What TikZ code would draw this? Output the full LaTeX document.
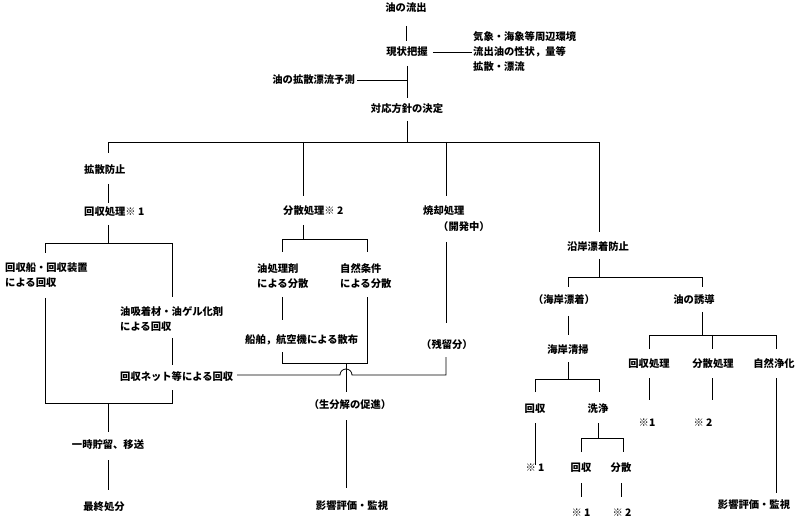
\documentclass[tikz,border=0pt]{standalone}
\usepackage{fontspec}
\newfontfamily\jp{Noto Sans CJK JP}
\begin{document}
\begin{tikzpicture}[x=1pt,y=-1pt,
  lbl/.style={font=\jp\bfseries\fontsize{10.3}{15}\selectfont, inner sep=0pt},
  ln/.style={line width=0.8pt}]
\useasboundingbox (0,0) rectangle (800,518);
% ---------- text nodes ----------
\node[lbl] (outflow) at (406,8) {油の流出};
\node[lbl] (grasp) at (407,52) {現状把握};
\node[lbl,anchor=west,align=left] (env) at (473,52) {気象・海象等周辺環境\\流出油の性状，量等\\拡散・漂流};
\node[lbl,anchor=east] (predict) at (355,80) {油の拡散漂流予測};
\node[lbl] (policy) at (407,109) {対応方針の決定};
% left branch
\node[lbl,anchor=west] (prevent) at (84,170) {拡散防止};
\node[lbl,anchor=west] (recov) at (84,212) {回収処理※ 1};
\node[lbl,anchor=west,align=left] (ship) at (5,275) {回収船・回収装置\\による回収};
\node[lbl,anchor=west,align=left] (absorb) at (120,319) {油吸着材・油ゲル化剤\\による回収};
\node[lbl,anchor=west] (net) at (120,377) {回収ネット等による回収};
\node[lbl] (store) at (108,445) {一時貯留、移送};
\node[lbl] (final) at (104,507) {最終処分};
% dispersion branch
\node[lbl,anchor=west] (disp) at (283,211) {分散処理※ 2};
\node[lbl,anchor=west,align=left] (agent) at (257,276) {油処理剤\\による分散};
\node[lbl,anchor=west,align=left] (nat) at (340,276) {自然条件\\による分散};
\node[lbl,anchor=west] (spray) at (245,340) {船舶，航空機による散布};
\node[lbl] (bio) at (350,405) {（生分解の促進）};
\node[lbl] (eval1) at (352,506) {影響評価・監視};
% burning
\node[lbl,anchor=west] (burn) at (423,211) {焼却処理};
\node[lbl,anchor=west] (dev) at (438,227) {（開発中）};
\node[lbl,anchor=west] (resid) at (421,345) {（残留分）};
% coast branch
\node[lbl] (coast) at (598,247) {沿岸漂着防止};
\node[lbl] (strand) at (564,300) {（海岸漂着）};
\node[lbl] (guide) at (694,300) {油の誘導};
\node[lbl] (clean) at (568,350) {海岸清掃};
\node[lbl] (gr1) at (649,364) {回収処理};
\node[lbl] (gr2) at (713,364) {分散処理};
\node[lbl] (gr3) at (774,364) {自然浄化};
\node[lbl] (cr1) at (535,409) {回収};
\node[lbl] (wash) at (598,409) {洗浄};
\node[lbl] (gs1) at (647,423) {※1};
\node[lbl] (gs2) at (703,423) {※ 2};
\node[lbl] (cs1) at (535,468) {※ 1};
\node[lbl] (wr1) at (581,468) {回収};
\node[lbl] (wr2) at (621,468) {分散};
\node[lbl] (ws1) at (581,513) {※ 1};
\node[lbl] (ws2) at (622,513) {※ 2};
\node[lbl] (eval2) at (754,505) {影響評価・監視};
% ---------- coordinates ----------
\coordinate (a1) at (406,26); \coordinate (a2) at (406,41);
\coordinate (s1) at (407,66); \coordinate (s2) at (407,98);
\coordinate (sp) at (407,80);
\coordinate (s3) at (407,121); \coordinate (s4) at (407,142);
\coordinate (b1) at (108,142); \coordinate (b2) at (303,142);
\coordinate (b3) at (446,142); \coordinate (b4) at (599,142);
\coordinate (b1d) at (108,153); \coordinate (b2d) at (303,196);
\coordinate (b3d) at (446,196); \coordinate (b4d) at (599,232);
% left
\coordinate (l1) at (108,184); \coordinate (l2) at (108,203);
\coordinate (l3) at (108,225); \coordinate (l4) at (108,243);
\coordinate (l5) at (45,243); \coordinate (l6) at (172,243);
\coordinate (l7) at (45,253); \coordinate (l8) at (172,297);
\coordinate (l9) at (45,298); \coordinate (l10) at (45,403);
\coordinate (l11) at (172,338); \coordinate (l12) at (172,365);
\coordinate (l13) at (172,390); \coordinate (l14) at (172,403);
\coordinate (l15) at (108,403); \coordinate (l16) at (108,432);
\coordinate (l17) at (108,460); \coordinate (l18) at (108,490);
% dispersion
\coordinate (d1) at (303,225); \coordinate (d2) at (303,239);
\coordinate (d3) at (282,239); \coordinate (d4) at (367,239);
\coordinate (d5) at (282,252); \coordinate (d6) at (367,252);
\coordinate (d7) at (282,297); \coordinate (d8) at (282,320);
\coordinate (d9) at (282,352); \coordinate (d10) at (282,363);
\coordinate (d11) at (367,297); \coordinate (d12) at (367,363);
\coordinate (d13) at (346,363); \coordinate (d14) at (346,392);
\coordinate (d15) at (346,420); \coordinate (d16) at (346,488);
\coordinate (h1) at (237,375); \coordinate (h2) at (340,375);
\coordinate (h3) at (446,375); \coordinate (h4) at (446,357);
\coordinate (f1) at (446,242); \coordinate (f2) at (446,323);
% coast
\coordinate (c1) at (599,259); \coordinate (c2) at (599,277);
\coordinate (c3) at (568,277); \coordinate (c4) at (702,277);
\coordinate (c5) at (568,287); \coordinate (c6) at (702,287);
\coordinate (c7) at (568,316); \coordinate (c8) at (568,335);
\coordinate (c9) at (568,362); \coordinate (c10) at (568,379);
\coordinate (c11) at (535,379); \coordinate (c12) at (599,379);
\coordinate (c13) at (535,392); \coordinate (c14) at (599,392);
\coordinate (c15) at (535,423); \coordinate (c16) at (535,465);
\coordinate (c17) at (598,423); \coordinate (c18) at (598,438);
\coordinate (c19) at (581,438); \coordinate (c20) at (623,438);
\coordinate (c21) at (581,452); \coordinate (c22) at (623,452);
\coordinate (c23) at (581,483); \coordinate (c24) at (581,497);
\coordinate (c25) at (621,483); \coordinate (c26) at (621,497);
\coordinate (g1) at (702,312); \coordinate (g2) at (702,335);
\coordinate (g3) at (649,335); \coordinate (g4) at (776,335);
\coordinate (g5) at (712,335);
\coordinate (g6) at (649,349); \coordinate (g7) at (712,349); \coordinate (g8) at (776,349);
\coordinate (g9) at (649,378); \coordinate (g10) at (649,400);
\coordinate (g11) at (712,378); \coordinate (g12) at (712,400);
\coordinate (g13) at (776,378); \coordinate (g14) at (776,493);
% ---------- connectors ----------
\draw[ln] (a1) -- (a2);
\draw[ln] ([xshift=5pt]grasp.east) -- ([xshift=-1pt]env.west);
\draw[ln] (s1) -- (s2);
\draw[ln] ([xshift=2pt]predict.east) -- (sp);
\draw[ln] (s3) -- (s4);
\draw[ln] (b1d) -- (b1) -- (b4) -- (b4d);
\draw[ln] (b2) -- (b2d);
\draw[ln] (b3) -- (b3d);
% left
\draw[ln] (l1) -- (l2);
\draw[ln] (l3) -- (l4);
\draw[ln] (l7) -- (l5) -- (l6) -- (l8);
\draw[ln] (l9) -- (l10) -- (l14) -- (l13);
\draw[ln] (l11) -- (l12);
\draw[ln] (l15) -- (l16);
\draw[ln] (l17) -- (l18);
% dispersion
\draw[ln] (d1) -- (d2);
\draw[ln] (d5) -- (d3) -- (d4) -- (d6);
\draw[ln] (d7) -- (d8);
\draw[ln] (d9) -- (d10) -- (d12) -- (d11);
\draw[ln] (d13) -- (d14);
\draw[ln] (d15) -- (d16);
\draw[ln] (h1) -- (h2) arc[start angle=180,end angle=0,radius=6pt] -- (h3) -- (h4);
\draw[ln] (f1) -- (f2);
% coast
\draw[ln] (c1) -- (c2);
\draw[ln] (c5) -- (c3) -- (c4) -- (c6);
\draw[ln] (c7) -- (c8);
\draw[ln] (c9) -- (c10);
\draw[ln] (c13) -- (c11) -- (c12) -- (c14);
\draw[ln] (c15) -- (c16);
\draw[ln] (c17) -- (c18);
\draw[ln] (c21) -- (c19) -- (c20) -- (c22);
\draw[ln] (c23) -- (c24);
\draw[ln] (c25) -- (c26);
\draw[ln] (g1) -- (g2);
\draw[ln] (g6) -- (g3) -- (g4) -- (g8);
\draw[ln] (g5) -- (g7);
\draw[ln] (g9) -- (g10);
\draw[ln] (g11) -- (g12);
\draw[ln] (g13) -- (g14);
\end{tikzpicture}
\end{document}
